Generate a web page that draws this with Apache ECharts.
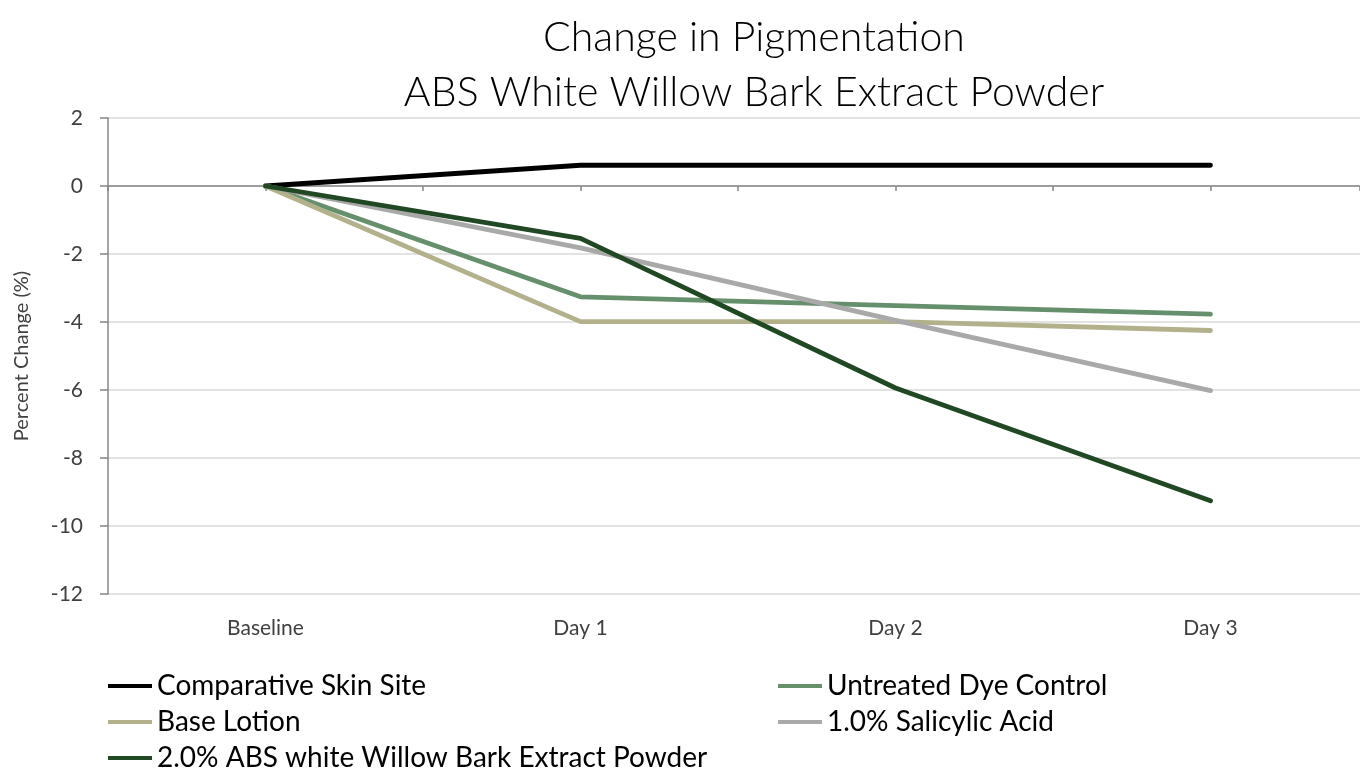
<!DOCTYPE html>
<html><head><meta charset="utf-8">
<script src="https://cdn.jsdelivr.net/npm/echarts@6/dist/echarts.min.js"></script>
<style>html,body{margin:0;padding:0;background:#fff}#c{width:1360px;height:772px}</style>
</head><body><div id="c"></div>
<script>
const categories = ['Baseline', 'Day 1', 'Day 2', 'Day 3'];
const seriesNames = ['Comparative Skin Site', 'Untreated Dye Control', 'Base Lotion', '1.0% Salicylic Acid', '2.0% ABS white Willow Bark Extract Powder'];
const comparative = [0, 0.61, 0.61, 0.61];
const untreated = [0, -3.26, -3.52, -3.77];
const baseLotion = [0, -3.99, -3.99, -4.25];
const salicylic = [0, -1.82, -3.95, -6.02];
const abs = [0, -1.54, -5.94, -9.26];
const yTicks = [-12, -10, -8, -6, -4, -2, 0, 2];
const colors = ['#000000', '#668f6c', '#b3b18b', '#a9a9a9', '#1f4823'];
const values = [comparative, untreated, baseLotion, salicylic, abs];

const FONT = 'Lato';
const X_MIN = -0.5, X_MAX = 3.4746;
const legendPos = [[108, 671], [778, 671], [108, 707], [778, 707], [108, 743]];

const chart = echarts.init(document.getElementById('c'), null, {renderer: 'canvas'});
const option = {
  animation: false,
  title: {
    text: 'Change in Pigmentation\nABS White Willow Bark Extract Powder',
    left: 749, top: 5, textAlign: 'center',
    textStyle: {fontFamily: FONT, fontWeight: 300, fontSize: 41, lineHeight: 55, color: '#000'}
  },
  grid: {left: 108, top: 118, right: 0, bottom: 178, containLabel: false},
  xAxis: [{
    type: 'value', min: X_MIN, max: X_MAX, interval: 0.5,
    axisLine: {onZero: true, lineStyle: {color: '#878787', width: 1.5}},
    axisTick: {show: true, length: 5, lineStyle: {color: '#878787', width: 1.5}},
    axisLabel: {show: false}, splitLine: {show: false}
  }, {
    type: 'value', min: X_MIN, max: X_MAX, interval: 0.5, position: 'bottom',
    axisLine: {show: false, onZero: false}, axisTick: {show: false}, splitLine: {show: false},
    axisLabel: {
      margin: 24, fontFamily: FONT, fontSize: 21, color: '#404040',
      showMinLabel: false, showMaxLabel: false,
      formatter: v => (Number.isInteger(v) && categories[v] !== undefined) ? categories[v] : ''
    }
  }],
  yAxis: {
    type: 'value', min: yTicks[0], max: yTicks[yTicks.length - 1], interval: 2,
    name: 'Percent Change (%)', nameLocation: 'middle', nameGap: 76, nameRotate: 90,
    nameTextStyle: {fontFamily: FONT, fontSize: 20, color: '#404040'},
    axisLine: {show: true, onZero: false, lineStyle: {color: '#878787', width: 1.5}},
    axisTick: {show: true, length: 8, lineStyle: {color: '#878787', width: 1.5}},
    axisLabel: {margin: 25, fontFamily: FONT, fontSize: 21, color: '#404040'},
    splitLine: {lineStyle: {color: '#d9d9d9', width: 1.5}}
  },
  legend: seriesNames.map((n, i) => ({
    left: legendPos[i][0], top: legendPos[i][1], padding: 0,
    icon: 'rect', itemWidth: 44, itemHeight: 4,
    textStyle: {fontFamily: FONT, fontSize: 28, lineHeight: 30, color: '#000'},
    data: [n]
  })),
  series: seriesNames.map((n, i) => ({
    name: n, type: 'line', xAxisIndex: 0,
    data: values[i].map((v, j) => [j, v]),
    showSymbol: false, symbol: 'none',
    lineStyle: {color: colors[i], width: 4.8, cap: 'round', join: 'round'},
    itemStyle: {color: colors[i]}
  }))
};
chart.setOption(option);
</script></body></html>
